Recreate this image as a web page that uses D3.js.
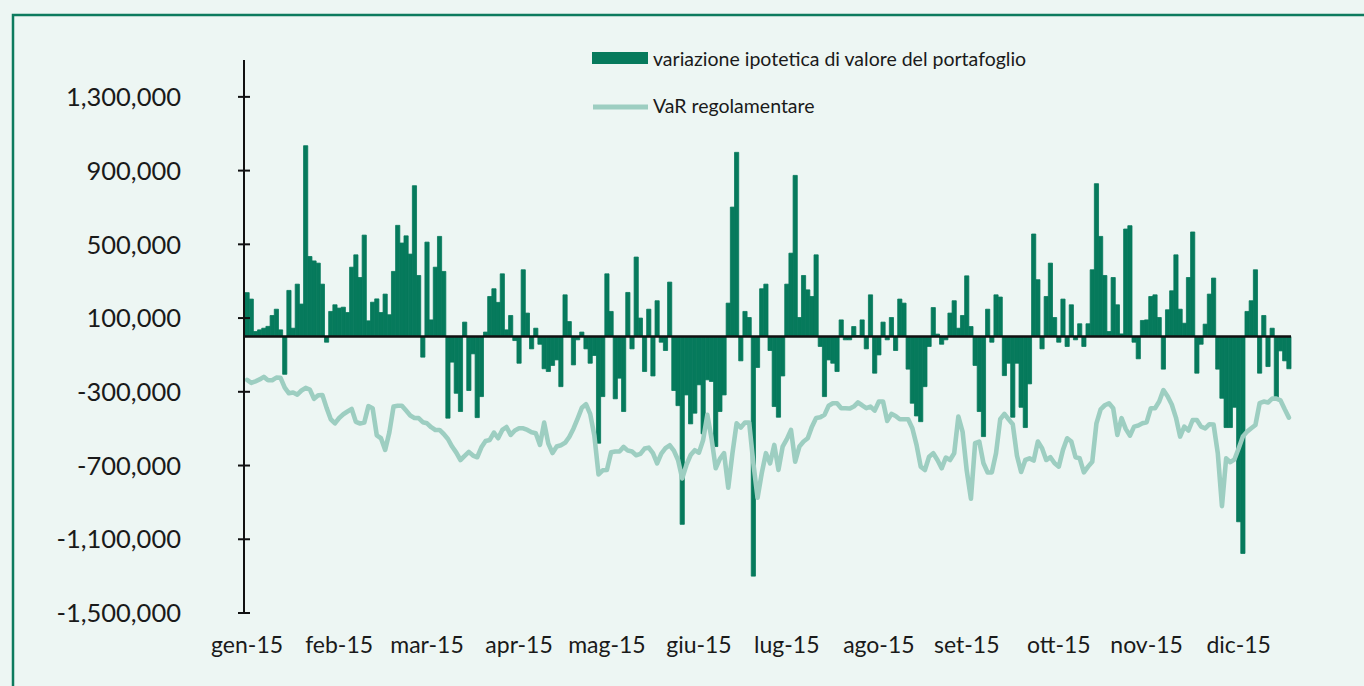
<!DOCTYPE html>
<html>
<head>
<meta charset="utf-8">
<script src="https://cdn.jsdelivr.net/npm/d3@7"></script>
<style>
  html, body { margin: 0; padding: 0; background: #edf6f3; }
  svg { display: block; font-family: Lato, "Noto Sans", sans-serif; }
</style>
</head>
<body>
<svg id="chart" width="1364" height="686"></svg>
<script>
// Month labels and the trading-day index where each month begins
const months = ["gen-15", "feb-15", "mar-15", "apr-15", "mag-15", "giu-15",
                "lug-15", "ago-15", "set-15", "ott-15", "nov-15", "dic-15"];
const monthStartIdx = [0, 22, 43, 65, 86, 108, 129, 151, 172, 194, 215, 237];

// Y axis ticks (thousands of euro)
const yTicks = [-1500, -1100, -700, -300, 100, 500, 900, 1300];

// Daily hypothetical change in portfolio value (thousands of euro)
const pnl = [
  238, 203, 27, 36, 45, 55, 114, 148, 36, -205, 250, 45, 284, 176, 1035, 434, 410, 398, 284, -31,
  136, 172, 154, 159, 130, 376, 443, 320, 550, 85, 186, 204, 130, 230, 118,
  353, 603, 507, 546, 447, 818, 331, -112, 512, 90, 376, 543, 353, -443, -139, -308, -407, 78, -293,
  -94, -440, -326, 24, 217, 259, 185, 340, 36, 114, -22, -145, 362, 127, -67, 45, -42,
  -175, -190, -157, -127, -272, 226, 81, -154, -18, 24, -67, -145, -103, -579, -326, 340, 136, -338,
  -226, -407, 239, -67, 431, 100, -190, 148, -214, 194, -31, -76, 295, -293, -375, -1019, -317, -474,
  -416, -262, -528, -235, -244, -597, -407, -317, 181, 702, 999, -132, 136, 103, -1300, -168, 259, 284,
  -76, -380, -438, -214, 284, 452, 874, 103, 331, 253, 217, 443, -54, -326, -127, -145, -190, 90,
  -18, -18, 54, 5, 90, -67, 226, -199, -100, 78, -18, 103, -76, 203, 181, -177, -362, -431,
  -462, -272, -54, 157, 13, -42, -18, 127, 194, 45, 114, 329, 54, -157, -407, -543, 148, -31,
  226, 214, -212, -145, -438, -145, -384, -494, -257, 556, 308, -67, 217, 398, 103, -31, 203, -54,
  172, -18, 69, -54, 69, 362, 829, 543, 331, 27, 320, 172, 14, 583, 601, -31, -121, 87,
  90, 217, 226, 103, -177, 145, 248, 443, 148, 72, 320, 567, -199, -42, 67, 230, 317, -177,
  -335, -494, -494, -384, -1005, -1177, 136, 194, 362, -199, 114, -163, 45, -335, -78, -132, -175
];

// Daily regulatory VaR (thousands of euro)
const varReg = [
  -235, -252, -243, -233, -219, -237, -237, -223, -224, -277, -308, -304, -315, -293, -279, -288, -338, -319,
  -317, -387, -449, -471, -442, -422, -407, -393, -463, -472, -467, -378, -389, -536, -552, -615, -520,
  -380, -376, -376, -402, -429, -442, -443, -465, -471, -492, -507, -507, -529, -556, -597, -630, -670, -648,
  -626, -646, -655, -601, -567, -561, -521, -552, -507, -491, -534, -510, -498, -498, -507, -520, -525, -588,
  -467, -581, -632, -597, -590, -577, -545, -500, -445, -387, -367, -420, -538, -748, -726, -724, -628, -624,
  -624, -599, -619, -624, -644, -637, -608, -603, -633, -688, -635, -606, -590, -619, -670, -770, -697, -643,
  -617, -630, -561, -425, -552, -715, -664, -633, -820, -633, -471, -494, -467, -467, -688, -875, -742, -633,
  -688, -588, -724, -597, -557, -507, -679, -597, -570, -552, -489, -442, -438, -425, -376, -362, -362, -389,
  -389, -391, -380, -358, -373, -389, -380, -402, -353, -353, -458, -420, -431, -449, -449, -449, -498, -588,
  -706, -724, -652, -633, -670, -715, -657, -670, -633, -434, -516, -728, -880, -579, -570, -688, -738, -737,
  -633, -449, -420, -449, -476, -646, -735, -670, -661, -673, -570, -606, -670, -655, -688, -706, -615, -552,
  -570, -655, -661, -737, -706, -679, -471, -395, -373, -362, -389, -534, -443, -501, -538, -489, -483, -471,
  -465, -389, -389, -353, -291, -324, -369, -440, -543, -489, -510, -453, -453, -489, -498, -476, -478, -633,
  -920, -661, -682, -666, -606, -543, -516, -498, -480, -362, -353, -358, -337, -337, -347, -395, -440
];

const legendLabels = ["variazione ipotetica di valore del portafoglio", "VaR regolamentare"];

const barColor = "#067a5c";
const varColor = "#9dcec1";
const frameColor = "#0d7b5e";

const svg = d3.select("#chart");

// outer frame (open at right and bottom, as it continues beyond the view)
svg.append("rect")
  .attr("x", 13).attr("y", 15)
  .attr("width", 1400).attr("height", 720)
  .attr("fill", "#edf6f3")
  .attr("stroke", frameColor).attr("stroke-width", 2.5);

const x = d3.scaleBand().domain(d3.range(pnl.length)).range([245, 1291]).padding(0);
const y = d3.scaleLinear().domain([-1500, 1500]).range([613, 60]);
const bw = x.bandwidth();
const y0 = y(0);
// thousands separator with a plain hyphen for negatives
const locale = d3.formatLocale({ decimal: ".", thousands: ",", grouping: [3], currency: ["", ""], minus: "-" });
const fmt = d => locale.format(",")(d * 1000);

// bars
svg.append("g").selectAll("rect").data(pnl).join("rect")
  .attr("x", (d, i) => x(i))
  .attr("width", bw)
  .attr("y", d => Math.min(y(d), y0))
  .attr("height", d => Math.abs(y(d) - y0))
  .attr("fill", barColor)
  .attr("stroke", barColor)
  .attr("stroke-width", 0.8)
  .attr("stroke-linejoin", "round");

// zero line
svg.append("line")
  .attr("x1", 244).attr("x2", x(pnl.length - 1) + bw)
  .attr("y1", y0).attr("y2", y0)
  .attr("stroke", "#111").attr("stroke-width", 2.5);

// VaR line
const line = d3.line().x((d, i) => x(i) + bw / 2).y(d => y(d)).curve(d3.curveLinear);
svg.append("path")
  .datum(varReg)
  .attr("d", line)
  .attr("fill", "none")
  .attr("stroke", varColor)
  .attr("stroke-width", 4.6)
  .attr("stroke-linejoin", "round")
  .attr("stroke-linecap", "round");

// y axis
const axisX = 244;
svg.append("line")
  .attr("x1", axisX).attr("x2", axisX)
  .attr("y1", y(1500)).attr("y2", y(-1500))
  .attr("stroke", "#111").attr("stroke-width", 2);
const yt = svg.append("g");
yt.selectAll("line").data(yTicks).join("line")
  .attr("x1", axisX - 6).attr("x2", axisX + 6)
  .attr("y1", d => y(d)).attr("y2", d => y(d))
  .attr("stroke", "#111").attr("stroke-width", 2);
yt.selectAll("text").data(yTicks).join("text")
  .attr("x", 181)
  .attr("y", d => y(d))
  .attr("dy", "0.36em")
  .attr("text-anchor", "end")
  .attr("font-size", 25.5)
  .attr("fill", "#1a1a1a")
  .text(fmt);

// month labels
svg.append("g").selectAll("text").data(months).join("text")
  .attr("x", (d, i) => x(monthStartIdx[i]) + bw / 2)
  .attr("y", 653)
  .attr("text-anchor", "middle")
  .attr("font-size", 23)
  .attr("fill", "#1a1a1a")
  .text(d => d);

// legend
const lg = svg.append("g");
lg.append("rect")
  .attr("x", 592).attr("y", 52).attr("width", 56).attr("height", 12)
  .attr("fill", barColor);
lg.append("line")
  .attr("x1", 593).attr("x2", 648).attr("y1", 107).attr("y2", 107)
  .attr("stroke", varColor).attr("stroke-width", 5);
lg.selectAll("text").data(legendLabels).join("text")
  .attr("x", 653)
  .attr("y", (d, i) => i === 0 ? 66 : 113)
  .attr("font-size", 19.5)
  .attr("fill", "#1a1a1a")
  .text(d => d);
</script>
</body>
</html>
